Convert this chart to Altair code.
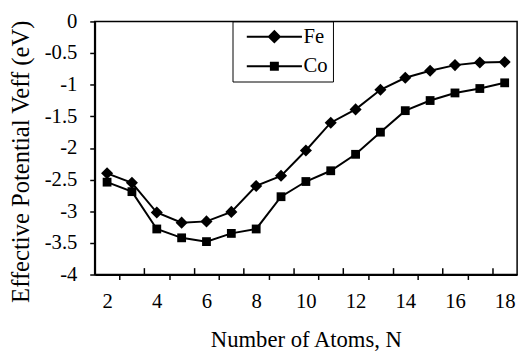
import altair as alt
import pandas as pd

# ---- data ----
atoms = list(range(2, 19))
fe_values = [-2.40, -2.55, -3.02, -3.18, -3.16, -3.01, -2.60, -2.44, -2.04,
             -1.60, -1.39, -1.08, -0.89, -0.78, -0.69, -0.65, -0.64]
co_values = [-2.54, -2.69, -3.28, -3.42, -3.48, -3.35, -3.28, -2.77, -2.53,
             -2.36, -2.10, -1.75, -1.41, -1.25, -1.13, -1.06, -0.97]
series = ["Fe", "Co"]
x_tick_labels = [2, 4, 6, 8, 10, 12, 14, 16, 18]
y_tick_labels = [0, -0.5, -1, -1.5, -2, -2.5, -3, -3.5, -4]
x_ticks_up = [3.5, 5.5, 7.5, 9.5, 11.5, 13.5, 15.5, 17.5]
x_ticks_down = [2.5, 4.5, 6.5, 8.5, 10.5, 12.5, 14.5, 16.5]

df = pd.DataFrame({
    "N": atoms * 2,
    "V": fe_values + co_values,
    "Series": ["Fe"] * len(atoms) + ["Co"] * len(atoms),
})

FONT = "Liberation Serif"

xscale = alt.Scale(domain=[1.5, 18.5], nice=False, zero=False)
yscale = alt.Scale(domain=[-4, 0], nice=False, zero=False)

xaxis = alt.Axis(orient="bottom", values=x_tick_labels, tickSize=0, labelPadding=16,
                 labelOverlap=False,
                 title="Number of Atoms, N", titleY=66, titleBaseline="middle",
                 grid=False, labelFontSize=21, titleFontSize=23,
                 labelFont=FONT, titleFont=FONT, titleFontWeight="normal",
                 labelColor="black", titleColor="black",
                 domainColor="black", domainWidth=2)
yaxis = alt.Axis(values=y_tick_labels, tickSize=5, tickWidth=1.5, tickColor="black",
                 labelPadding=13, labelExpr="'' + datum.value", labelOverlap=False,
                 title="Effective Potential Veff (eV)", titleX=-75, titleY=142,
                 titleBaseline="middle", titleAngle=270,
                 grid=False, labelFontSize=21, titleFontSize=25,
                 labelFont=FONT, titleFont=FONT, titleFontWeight="normal",
                 labelColor="black", titleColor="black",
                 domainColor="black", domainWidth=2)
tick_down_axis = alt.Axis(orient="bottom", values=x_ticks_down, labels=False, title=None,
                          domain=False, grid=False, tickSize=5, tickWidth=1.5,
                          tickColor="black")
tick_up_axis = alt.Axis(orient="bottom", values=x_ticks_up, labels=False, title=None,
                        domain=False, grid=False, tickSize=alt.ExprRef("-7"),
                        tickWidth=1.5, tickColor="black")

base = alt.Chart(df).encode(
    x=alt.X("N:Q", scale=xscale, axis=xaxis),
    y=alt.Y("V:Q", scale=yscale, axis=yaxis),
)

lines = base.mark_line(color="black", strokeWidth=2).encode(detail="Series:N")

fe_points = base.transform_filter(alt.datum.Series == "Fe").mark_point(
    shape="diamond", size=150, filled=True, color="black", opacity=1)
co_points = base.transform_filter(alt.datum.Series == "Co").mark_point(
    shape="square", size=80, filled=True, color="black", opacity=1)

# legend symbols: a line segment with the marker in its middle
fe_path = "M-4,-0.14H4V0.14H-4Z M0,-1L1,0L0,1L-1,0Z"
co_path = "M-4,-0.14H4V0.14H-4Z M-0.65,-0.65H0.65V0.65H-0.65Z"

legend_layer = base.transform_filter("false").mark_point(
    filled=True, color="black", size=196, opacity=1
).encode(
    shape=alt.Shape("Series:N",
                    scale=alt.Scale(domain=series, range=[fe_path, co_path]),
                    legend=alt.Legend(title=None, orient="none", legendX=140, legendY=0,
                                      padding=5, rowPadding=8, symbolOffset=27,
                                      labelOffset=19, labelFont=FONT, labelFontSize=21,
                                      labelColor="black",
                                      labelExpr="datum.label + '    '",
                                      strokeColor="black", fillColor="white",
                                      symbolFillColor="black", symbolStrokeWidth=0,
                                      symbolSize=196, symbolOpacity=1))
)

main = alt.layer(lines, fe_points, co_points, legend_layer)

tick_down_layer = base.transform_filter("false").mark_point().encode(
    x=alt.X("N:Q", scale=xscale, axis=tick_down_axis))
tick_up_layer = base.transform_filter("false").mark_point().encode(
    x=alt.X("N:Q", scale=xscale, axis=tick_up_axis))

chart = alt.layer(main, tick_down_layer, tick_up_layer).resolve_axis(
    x="independent"
).properties(
    width=429, height=257,
    autosize=alt.AutoSizeParams(type="none"),
    padding={"left": 88, "top": 11, "right": 7, "bottom": 75},
).configure_view(stroke="black", strokeWidth=1.5)

chart.save("out.html", embed_options={"renderer": "svg", "actions": False})
